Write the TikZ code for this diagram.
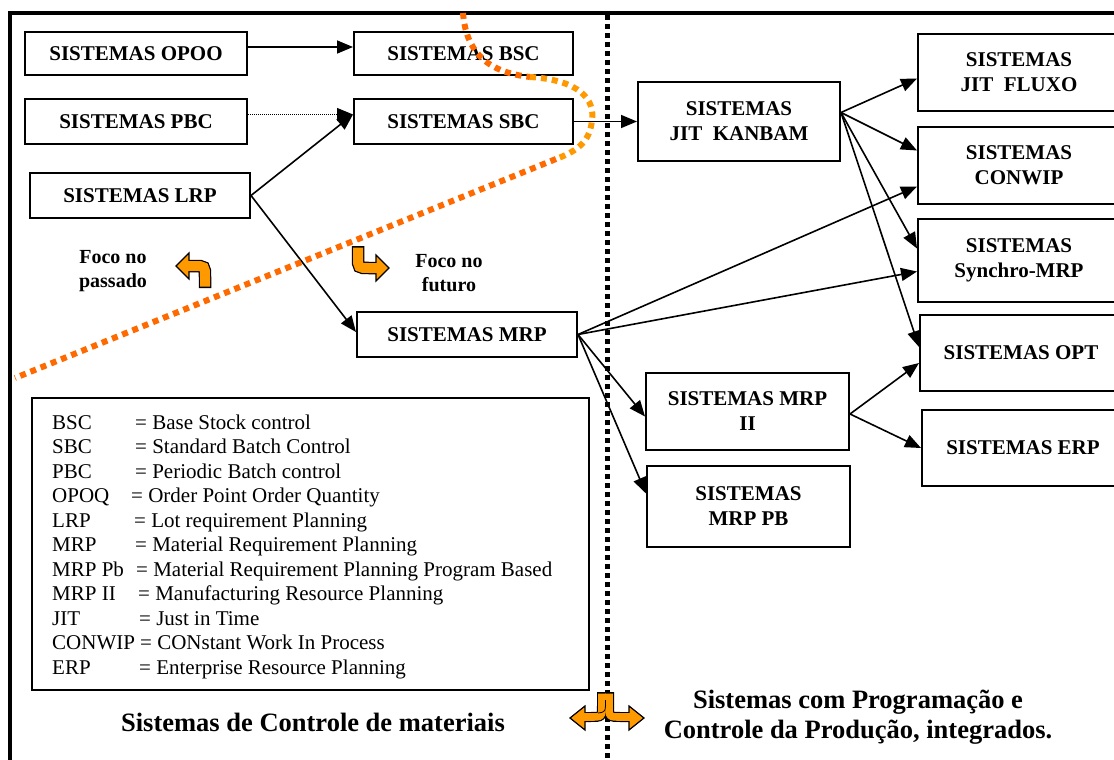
\documentclass[tikz,border=0pt]{standalone}
\usepackage{fontspec}
\setmainfont{Liberation Serif}
\usetikzlibrary{arrows.meta,positioning}
\definecolor{dotorange}{HTML}{FF6A00}
\definecolor{lightorange}{HTML}{FF9900}
\definecolor{arroworange}{HTML}{FF9900}

\begin{document}
\begin{tikzpicture}[x=1pt, y=-1pt,
  main/.style = {draw, line width=2pt, align=center, inner sep=0pt, font=\fontsize{21}{25}\selectfont\bfseries},
  link/.style = {line width=1.6pt, -{Triangle[length=16pt,width=13pt]}},
  note/.style = {anchor=base west, inner sep=0pt, font=\fontsize{21}{24.5}\selectfont},
  foco/.style = {align=center, inner sep=0pt, font=\fontsize{20}{24}\selectfont\bfseries},
  title/.style = {align=center, inner sep=0pt, font=\fontsize{26.5}{30}\selectfont\bfseries}]
\useasboundingbox (0,0) rectangle (1114,760);
\clip (0,0) rectangle (1114,760);

% frame and separator
\draw[line width=3.5pt] (10,800) -- (10,13) -- (1140,13);
\draw[line width=5pt, dash pattern=on 5pt off 4pt] (607,15) -- (607,760);

% left side
\node[main, minimum width=222pt, minimum height=43pt] (OPOO) at (136,53.5) {SISTEMAS OPOO};
\node[main, minimum width=219pt, minimum height=43pt] (BSC) [right=105pt of OPOO] {SISTEMAS BSC};
\node[main, minimum width=222pt, minimum height=45pt] (PBC) [below=22pt of OPOO] {SISTEMAS PBC};
\node[main, minimum width=219pt, minimum height=45pt] (SBC) [below=22pt of BSC] {SISTEMAS SBC};
\node[main, minimum width=220pt, minimum height=45pt] (LRP) at (140,195.5) {SISTEMAS LRP};
\node[main, minimum width=220pt, minimum height=45pt] (MRP) at (467,334.5) {SISTEMAS MRP};

% right side
\node[main, minimum width=202pt, minimum height=79pt] (KAN) at (739,121.5) {SISTEMAS\\JIT~~KANBAM};
\node[main, minimum width=202pt, minimum height=77pt] (FLX) at (1019,72.5) {SISTEMAS\\JIT~~FLUXO};
\node[main, minimum width=202pt, minimum height=77pt] (CON) at (1019,165.5) {SISTEMAS\\CONWIP};
\node[main, minimum width=202pt, minimum height=83pt] (SYN) at (1019,260.5) {SISTEMAS\\Synchro-MRP};
\node[main, minimum width=202pt, minimum height=76pt] (OPT) at (1021,353) {SISTEMAS OPT};
\node[main, minimum width=202pt, minimum height=76pt] (ERP) at (1023,448) {SISTEMAS ERP};
\node[main, minimum width=203pt, minimum height=77pt] (MII) at (747.5,411.5) {SISTEMAS MRP\\II};
\node[main, minimum width=203pt, minimum height=81pt] (MPB) at (748.5,506.5) {SISTEMAS\\MRP PB};

% legend
\node[draw, line width=1.8pt, inner sep=0pt, minimum width=557pt, minimum height=292pt] (LEG) at (310.5,544) {};
\foreach \ab/\ex/\tx [count=\i from 0] in {BSC/135/Base Stock control, SBC/135/Standard Batch Control,
    PBC/135/Periodic Batch control, OPOQ/131/Order Point Order Quantity, LRP/134/Lot requirement Planning,
    MRP/135/Material Requirement Planning, MRP Pb/136/Material Requirement Planning Program Based,
    MRP II/138/Manufacturing Resource Planning, JIT/139/Just in Time, CONWIP/140/CONstant Work In Process,
    ERP/139/Enterprise Resource Planning}
{
  \node[note] (ab\i) at (52,{429+24.5*\i}) {\ab};
  \node[note] (tx\i) at (\ex,{429+24.5*\i}) {= \tx};
}

% texts
\node[foco] (FP) at (113,271) {Foco no\\passado};
\node[foco] (FF) at (449,273) {Foco no\\futuro};
\node[title] (CM) at (313,722) {Sistemas de Controle de materiais};
\node[title] (PC) at (858,717) {Sistemas com Programação e\\Controle da Produção, integrados.};

% connectors
\draw[link] ([yshift=6.5pt]OPOO.east) -- ([yshift=6.5pt]BSC.west);
\draw[link, line width=1pt, densely dotted] ([yshift=7pt]PBC.east) -- ([yshift=7pt]SBC.west);
\draw[link] (LRP.east) -- ([yshift=7pt]SBC.west);
\draw[link] (LRP.east) -- ([yshift=2.5pt]MRP.west);
\draw[link] (SBC.east) -- (SBC.east -| KAN.west);
\coordinate (KO) at ([yshift=9pt]KAN.east);
\draw[link] (KO) -- ([yshift=-6pt]FLX.west);
\draw[link] (KO) -- ([yshift=15pt]CON.west);
\draw[link] (KO) -- ([yshift=12pt]SYN.west);
\draw[link] (KO) -- ([yshift=6pt]OPT.west);
\draw[link] (MRP.east) -- ([yshift=-21pt]CON.west);
\draw[link] (MRP.east) -- ([yshift=-11pt]SYN.west);
\draw[link] (MRP.east) -- ([yshift=-5pt]MII.west);
\draw[link] (MRP.east) -- ([yshift=13pt]MPB.west);
\coordinate (MO) at ([yshift=-2.5pt]MII.east);
\draw[link] (MO) -- ([yshift=-10pt]OPT.west);
\draw[link] (MO) -- (ERP.west);

% orange dotted border
\draw[dotorange, line width=6pt, dash pattern=on 6pt off 5pt] (463,13) .. controls (466,50) and (485,72) .. (530,77);
\draw[lightorange, line width=6pt, dash pattern=on 6pt off 5pt] (530,77) .. controls (580,80) and (595,100) .. (592,120)
  .. controls (590,140) and (580,150) .. (556,159);
\draw[dotorange, line width=6pt, dash pattern=on 6pt off 5pt] (556,159) -- (15,378);

% orange arrows
\draw[line width=12.5pt] (205,288) -- (205,277) .. controls (205,266) .. (194,266) -- (188,266);
\draw[line width=12.5pt] (358,246) -- (358,257) .. controls (358,268) .. (369,268) -- (377,268);
\draw[line width=10pt] (602,692) -- (602,705) .. controls (602,717) .. (590,717) -- (584,717);
\draw[line width=10pt] (609,692) -- (609,705) .. controls (609,717) .. (621,717) -- (630,717);
\filldraw[fill=arroworange, line width=1.2pt] (189,253) -- (176,266) -- (189,279) -- cycle;
\filldraw[fill=arroworange, line width=1.2pt] (376,255) -- (389,268) -- (376,281) -- cycle;
\filldraw[fill=arroworange, line width=1.2pt] (585,706) -- (570,718) -- (585,730) -- cycle;
\filldraw[fill=arroworange, line width=1.2pt] (629,706) -- (644,718) -- (629,730) -- cycle;
\draw[arroworange, line width=10pt] (205,286.5) -- (205,277) .. controls (205,266) .. (194,266) -- (187,266);
\draw[arroworange, line width=10pt] (358,247.5) -- (358,257) .. controls (358,268) .. (369,268) -- (378,268);
\draw[arroworange, line width=7.6pt] (602,693.5) -- (602,705) .. controls (602,717) .. (590,717) -- (583,717);
\draw[arroworange, line width=7.6pt] (609,693.5) -- (609,705) .. controls (609,717) .. (621,717) -- (631,717);
\draw[line width=0.8pt] (605.5,700) .. controls (605.5,712) .. (598,713);
\end{tikzpicture}
\end{document}
